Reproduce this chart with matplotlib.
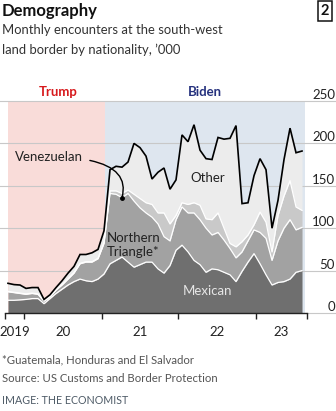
import matplotlib
matplotlib.use('Agg')
import matplotlib.pyplot as plt
import numpy as np
import pandas as pd
from matplotlib.transforms import blended_transform_factory

plt.rcParams['font.family'] = ['Lato', 'DejaVu Sans']

# ---- data ('000 encounters per month, Oct 2019 - Nov 2023) ----
months = pd.period_range('2019-10', '2023-11', freq='M')
mexican = [15, 15, 15.5, 16, 17, 17, 11, 17, 23, 28, 33, 37, 40, 38, 37, 40, 46,
           58, 62, 66, 60, 54, 57, 60, 60, 52, 47, 56, 74, 80, 72, 62, 57, 48, 52,
           51, 48, 45, 37, 49, 60, 70, 58, 45, 33, 36, 37, 40, 48, 50]
northern_triangle = [10, 9, 7.5, 6, 6, 5, 3, 2, 4, 5, 7, 10, 18, 22, 23, 24, 36,
                     83, 78, 70, 81, 78, 67, 58, 53, 53, 43, 29, 36, 45, 46, 56, 53,
                     52, 40, 44, 38, 31, 28, 23, 25, 28, 37, 43, 29, 49, 63, 70, 50, 51]
venezuelan = [0.5, 0.5, 0.5, 0.5, 0.5, 0.5, 0.3, 0.3, 0.3, 0.3, 0.3, 0.5, 0.5, 0.5,
              0.5, 0.5, 1, 3, 4, 5, 4, 8, 11, 12, 15, 13, 28, 20, 5, 5, 10, 12, 17,
              11, 18, 23, 14, 6, 13, 12, 7, 6, 24, 19, 10, 30, 38, 46, 27, 20]
other = [9.5, 9, 9.5, 6.5, 6.5, 7.5, 1.7, 2.2, 2.7, 4.7, 6.7, 7.5, 10.5, 8.5, 10.5,
         10.5, 14, 25, 29, 31, 33, 60, 60, 55, 30, 48, 53, 41, 42, 80, 74, 92, 65,
         71, 71, 89, 105, 124, 143, 45, 38, 58, 63, 62, 28, 18, 43, 62, 64, 70]

y_ticks = [0, 50, 100, 150, 200, 250]
year_labels = ['2019', '20', '21', '22', '23']

# ---- figure ----
W, H = 336, 411
fig = plt.figure(figsize=(W / 100, H / 100), dpi=100)
fig.patch.set_facecolor('white')
ax = fig.add_axes([5 / W, (H - 313) / H, 302 / W, 212 / H])
ax.set_xlim(-0.5, 49.83)
ax.set_ylim(0, 250)

x = np.arange(len(months))
layers = [mexican, northern_triangle, venezuelan, other]
colors = ['#6f6f6f', '#a2a2a2', '#c9c9c9', '#ececec']
cum = np.cumsum(np.array(layers, dtype=float), axis=0)
bottom = np.zeros(len(x))
for top, c in zip(cum, colors):
    ax.fill_between(x, bottom, top, color=c, lw=0, zorder=3)
    bottom = top
for top in cum[:-1]:
    ax.plot(x, top, color='white', lw=0.9, zorder=4)
ax.plot(x, cum[-1], color='black', lw=1.2, zorder=5, solid_joinstyle='miter')

# presidency shading
ax.axvspan(0, 16.2, color='#f9dcd9', lw=0, zorder=0)
ax.axvspan(16.2, 49.5, color='#dee6ef', lw=0, zorder=0)

# gridlines spanning the whole figure width
trans_fy = blended_transform_factory(fig.transFigure, ax.transData)
for v in y_ticks[1:]:
    ax.plot([0, 1], [v, v], transform=trans_fy, color='#c8c8c8', lw=0.8,
            zorder=1, clip_on=False)
    ax.text(335 / W, v, str(v), transform=trans_fy, ha='right', va='bottom',
            fontsize=9.5, color='#222222')
ax.plot([307 / W, 1], [0, 0], transform=trans_fy, color='#c8c8c8', lw=0.8,
        zorder=1, clip_on=False)
ax.text(335 / W, 0, '0', transform=trans_fy, ha='right', va='bottom',
        fontsize=9.5, color='#222222')

for s in ['top', 'left', 'right']:
    ax.spines[s].set_visible(False)
ax.spines['bottom'].set_color('#222222')
ax.spines['bottom'].set_linewidth(1)
ax.spines['bottom'].set_zorder(6)
ax.set_yticks([])
ax.set_xticks([-0.5, 2.7, 15.6, 28.4, 41.3, 49.8])
ax.set_xticklabels([])
ax.tick_params(axis='x', which='major', length=4.5, width=1, color='#222222')
ax.set_xticks([1.1, 9.25, 22, 34.8, 45.6], minor=True)
ax.set_xticklabels(year_labels, minor=True, fontsize=9.5, color='#222222')
ax.tick_params(axis='x', which='minor', length=0, pad=9)

# presidency labels
ax.text(8.3, 261, 'Trump', ha='center', va='center', fontsize=9.5,
        fontweight='bold', color='#d7191c', clip_on=False)
ax.text(32.8, 261, 'Biden', ha='center', va='center', fontsize=9.5,
        fontweight='bold', color='#26327e', clip_on=False)

# series annotations
ax.text(33.3, 159, 'Other', ha='center', va='center', fontsize=9.5,
        color='#222222', zorder=7)
ax.text(16.5, 80, 'Northern\nTriangle*', ha='left', va='center', fontsize=9.5,
        color='#222222', linespacing=1.15, zorder=7)
ax.text(33.2, 26, 'Mexican', ha='center', va='center', fontsize=9.5,
        color='#e6e6e6', zorder=7)
i_v = 19
target = (x[i_v], cum[1][i_v])
ax.annotate('Venezuelan', xy=target, xytext=(12.5, 184), ha='right',
            va='center', fontsize=9.5, color='#222222', zorder=7,
            arrowprops=dict(arrowstyle='-', color='black', lw=1,
                            shrinkA=3, shrinkB=0,
                            connectionstyle='angle3,angleA=0,angleB=75'))
ax.plot(*target, 'o', color='black', ms=2.5, zorder=7)

# titles and footer
fig.text(2 / W, 1 - 11 / H, 'Demography', ha='left', va='center', fontsize=12,
         fontweight='bold', color='#111111')
fig.text(2 / W, 1 - 30 / H, 'Monthly encounters at the south-west',
         ha='left', va='center', fontsize=9.4, color='#333333')
fig.text(2 / W, 1 - 50 / H, 'land border by nationality, \u2019000',
         ha='left', va='center', fontsize=9.4, color='#333333')
fig.text(325 / W, 1 - 11 / H, '2', ha='center', va='center', fontsize=10.5,
         fontweight='bold', color='#111111',
         bbox=dict(boxstyle='square,pad=0.2', fc='white', ec='#111111', lw=1.1))
fig.text(2 / W, 1 - 360 / H, '*Guatemala, Honduras and El Salvador',
         ha='left', va='center', fontsize=8.2, color='#555555')
fig.text(2 / W, 1 - 378 / H, 'Source: US Customs and Border Protection',
         ha='left', va='center', fontsize=8.2, color='#555555')
fig.text(2 / W, 1 - 400 / H, 'IMAGE: THE ECONOMIST', ha='left', va='center',
         fontsize=7.7, color='#4d5a66')

fig.savefig('out.png', dpi=100, facecolor='white')
